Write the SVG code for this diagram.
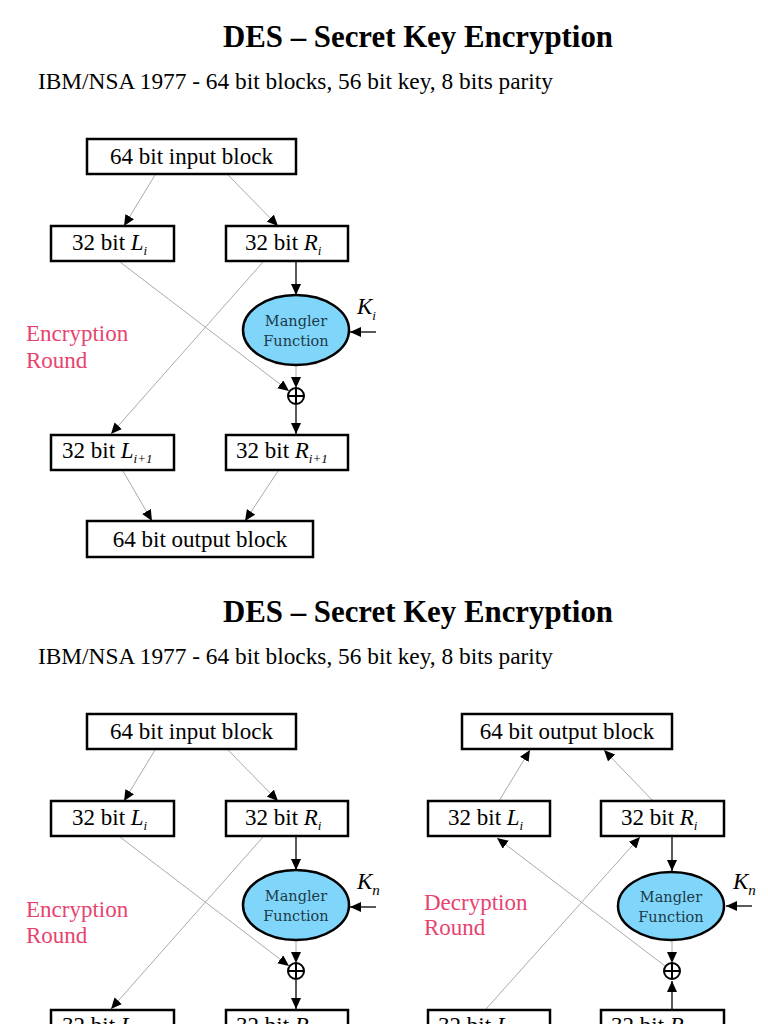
<svg xmlns="http://www.w3.org/2000/svg" width="768" height="1024" viewBox="0 0 768 1024">
<defs>
<marker id="ah" markerUnits="userSpaceOnUse" markerWidth="12" markerHeight="10" refX="11" refY="5" orient="auto">
<path d="M0,0 L11,5 L0,10 Z" fill="#000"/>
</marker>
<style>
.title{font-family:"Liberation Serif",serif;font-weight:bold;font-size:30.5px;fill:#000}
.sub{font-family:"Liberation Serif",serif;font-size:23px;fill:#000}
.box{fill:#fff;stroke:#000;stroke-width:2.5}
.bt{font-family:"Liberation Serif",serif;font-size:23px;fill:#000}
.it{font-style:italic}
.sb{font-family:"Liberation Serif",serif;font-style:italic;font-size:13px}
.mang{fill:#80d6fa;stroke:#000;stroke-width:2.5}
.mt{font-family:"DejaVu Serif",serif;font-size:14.5px;fill:#1e3a48;text-anchor:middle}
.round{font-family:"Liberation Serif",serif;font-size:23px;fill:#e8436f}
.key{font-family:"Liberation Serif",serif;font-style:italic;font-size:23px;fill:#000}
.g{stroke:#aaa;stroke-width:1;fill:none}
.k{stroke:#000;stroke-width:1.3;fill:none}
.xor{fill:#fff;stroke:#000;stroke-width:2}
</style>
</defs>

<!-- ===== Top slide ===== -->
<text class="title" x="223" y="47" textLength="390" lengthAdjust="spacingAndGlyphs">DES – Secret Key Encryption</text>
<text class="sub" x="38" y="89" textLength="515" lengthAdjust="spacingAndGlyphs">IBM/NSA 1977 - 64 bit blocks, 56 bit key, 8 bits parity</text>

<g id="connectors">
<line class="g" x1="155" y1="175" x2="124" y2="226" marker-end="url(#ah)"/>
<line class="g" x1="228" y1="175" x2="278" y2="226" marker-end="url(#ah)"/>
<line class="k" x1="296" y1="261" x2="296" y2="295" marker-end="url(#ah)"/>
<line class="k" x1="376" y1="332" x2="350" y2="332" marker-end="url(#ah)"/>
<line class="g" x1="296" y1="366" x2="296" y2="388" marker-end="url(#ah)"/>
<line class="g" x1="120" y1="262" x2="289" y2="391" marker-end="url(#ah)"/>
<line class="g" x1="263" y1="262" x2="111" y2="434" marker-end="url(#ah)"/>
<line class="k" x1="296" y1="405" x2="296" y2="434" marker-end="url(#ah)"/>
<line class="g" x1="123" y1="471" x2="152" y2="521" marker-end="url(#ah)"/>
<line class="g" x1="278" y1="471" x2="245" y2="521" marker-end="url(#ah)"/>

<line class="g" x1="155" y1="750" x2="124" y2="801" marker-end="url(#ah)"/>
<line class="g" x1="228" y1="750" x2="278" y2="801" marker-end="url(#ah)"/>
<line class="k" x1="296" y1="836" x2="296" y2="870" marker-end="url(#ah)"/>
<line class="k" x1="376" y1="907" x2="350" y2="907" marker-end="url(#ah)"/>
<line class="g" x1="296" y1="941" x2="296" y2="963" marker-end="url(#ah)"/>
<line class="g" x1="120" y1="837" x2="289" y2="966" marker-end="url(#ah)"/>
<line class="g" x1="263" y1="837" x2="111" y2="1009" marker-end="url(#ah)"/>
<line class="k" x1="296" y1="980" x2="296" y2="1009" marker-end="url(#ah)"/>

<line class="g" x1="499" y1="801" x2="530" y2="750" marker-end="url(#ah)"/>
<line class="g" x1="653" y1="801" x2="604" y2="750" marker-end="url(#ah)"/>
<line class="k" x1="672" y1="836" x2="672" y2="871" marker-end="url(#ah)"/>
<line class="k" x1="752" y1="906" x2="726" y2="906" marker-end="url(#ah)"/>
<line class="g" x1="672" y1="941" x2="672" y2="963" marker-end="url(#ah)"/>
<line class="g" x1="665" y1="966" x2="497" y2="838" marker-end="url(#ah)"/>
<line class="g" x1="486" y1="1009" x2="640" y2="837" marker-end="url(#ah)"/>
<line class="k" x1="672" y1="1009" x2="672" y2="981" marker-end="url(#ah)"/>
</g>

<g id="input1"><rect class="box" x="87" y="139" width="209" height="35"/><text class="bt" x="191.5" y="164" text-anchor="middle">64 bit input block</text></g>
<g id="L1"><rect class="box" x="51" y="226" width="123" height="35"/><text class="bt" x="72" y="250">32 bit <tspan class="it">L</tspan><tspan class="sb" dy="5">i</tspan></text></g>
<g id="R1"><rect class="box" x="226" y="226" width="122" height="35"/><text class="bt" x="245" y="250">32 bit <tspan class="it">R</tspan><tspan class="sb" dy="5">i</tspan></text></g>
<g id="M1"><ellipse class="mang" cx="296" cy="330" rx="53" ry="35"/><text class="mt" x="296" y="326">Mangler</text><text class="mt" x="296" y="346">Function</text></g>
<g id="K1"><text class="key" x="357" y="314">K<tspan font-size="13" dy="6">i</tspan></text></g>
<g id="X1"><circle class="xor" cx="296" cy="396" r="8"/><path d="M288,396 H304 M296,388 V404" stroke="#000" stroke-width="2"/></g>
<g id="ER1"><text class="round" x="26" y="341">Encryption</text><text class="round" x="26" y="368">Round</text></g>
<g id="L2"><rect class="box" x="51" y="435" width="123" height="35"/><text class="bt" x="62" y="458">32 bit <tspan class="it">L</tspan><tspan class="sb" dy="5">i+1</tspan></text></g>
<g id="R2"><rect class="box" x="226" y="435" width="122" height="35"/><text class="bt" x="236" y="458">32 bit <tspan class="it">R</tspan><tspan class="sb" dy="5">i+1</tspan></text></g>
<g id="out1"><rect class="box" x="87" y="521" width="226" height="36"/><text class="bt" x="200" y="547" text-anchor="middle">64 bit output block</text></g>

<!-- ===== Bottom slide ===== -->
<text class="title" x="223" y="622" textLength="390" lengthAdjust="spacingAndGlyphs">DES – Secret Key Encryption</text>
<text class="sub" x="38" y="664" textLength="515" lengthAdjust="spacingAndGlyphs">IBM/NSA 1977 - 64 bit blocks, 56 bit key, 8 bits parity</text>

<g id="input2"><rect class="box" x="87" y="714" width="209" height="35"/><text class="bt" x="191.5" y="739" text-anchor="middle">64 bit input block</text></g>
<g id="L3"><rect class="box" x="51" y="801" width="123" height="35"/><text class="bt" x="72" y="825">32 bit <tspan class="it">L</tspan><tspan class="sb" dy="5">i</tspan></text></g>
<g id="R3"><rect class="box" x="226" y="801" width="122" height="35"/><text class="bt" x="245" y="825">32 bit <tspan class="it">R</tspan><tspan class="sb" dy="5">i</tspan></text></g>
<g id="M2"><ellipse class="mang" cx="296" cy="905" rx="53" ry="35"/><text class="mt" x="296" y="901">Mangler</text><text class="mt" x="296" y="921">Function</text></g>
<g id="K2"><text class="key" x="357" y="889">K<tspan font-size="15" dy="6">n</tspan></text></g>
<g id="X2"><circle class="xor" cx="296" cy="971" r="8"/><path d="M288,971 H304 M296,963 V979" stroke="#000" stroke-width="2"/></g>
<g id="ER2"><text class="round" x="26" y="917">Encryption</text><text class="round" x="26" y="943">Round</text></g>
<g id="L4"><rect class="box" x="51" y="1010" width="123" height="35"/><text class="bt" x="62" y="1033">32 bit <tspan class="it">L</tspan><tspan class="sb" dy="5">i+1</tspan></text></g>
<g id="R4"><rect class="box" x="226" y="1010" width="122" height="35"/><text class="bt" x="236" y="1033">32 bit <tspan class="it">R</tspan><tspan class="sb" dy="5">i+1</tspan></text></g>

<g id="out2"><rect class="box" x="462" y="714" width="210" height="35"/><text class="bt" x="567" y="739" text-anchor="middle">64 bit output block</text></g>
<g id="L5"><rect class="box" x="428" y="801" width="122" height="35"/><text class="bt" x="448" y="825">32 bit <tspan class="it">L</tspan><tspan class="sb" dy="5">i</tspan></text></g>
<g id="R5"><rect class="box" x="601" y="801" width="123" height="35"/><text class="bt" x="621" y="825">32 bit <tspan class="it">R</tspan><tspan class="sb" dy="5">i</tspan></text></g>
<g id="M3"><ellipse class="mang" cx="671" cy="906" rx="53" ry="34"/><text class="mt" x="671" y="902">Mangler</text><text class="mt" x="671" y="922">Function</text></g>
<g id="K3"><text class="key" x="733" y="889">K<tspan font-size="15" dy="6">n</tspan></text></g>
<g id="X3"><circle class="xor" cx="672" cy="971" r="8"/><path d="M664,971 H680 M672,963 V979" stroke="#000" stroke-width="2"/></g>
<g id="DR"><text class="round" x="424" y="910">Decryption</text><text class="round" x="424" y="935">Round</text></g>
<g id="L6"><rect class="box" x="428" y="1010" width="122" height="35"/><text class="bt" x="438" y="1033">32 bit <tspan class="it">L</tspan><tspan class="sb" dy="5">i+1</tspan></text></g>
<g id="R6"><rect class="box" x="601" y="1010" width="123" height="35"/><text class="bt" x="611" y="1033">32 bit <tspan class="it">R</tspan><tspan class="sb" dy="5">i+1</tspan></text></g>
</svg>
